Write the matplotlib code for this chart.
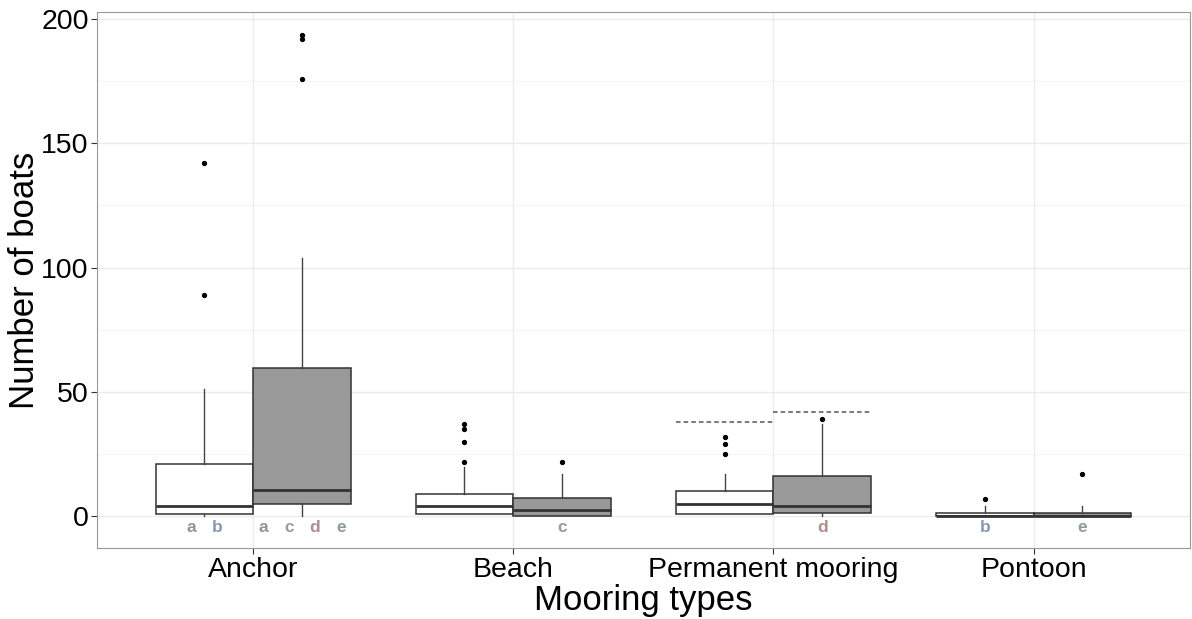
import matplotlib.pyplot as plt

plt.rcParams['font.family'] = ['Liberation Sans', 'DejaVu Sans']

categories = ["Anchor", "Beach", "Permanent mooring", "Pontoon"]

# box stats per category: first (white) and second (grey) group
white_low = [0, 1, 1, 0]
white_q1 = [1, 1, 1, 0]
white_med = [4, 4, 5, 0]
white_q3 = [21, 9, 10, 1.5]
white_high = [51, 20, 17, 4]
white_out = [[89, 142], [22, 30, 35, 37], [25, 29, 32], [7]]

grey_low = [0, 0, 0, 0]
grey_q1 = [5, 0, 1.5, 0]
grey_med = [10.5, 2.5, 4, 0]
grey_q3 = [59.5, 7.5, 16, 1.5]
grey_high = [104, 17, 37, 4]
grey_out = [[176, 192, 193.5], [22], [39], [17]]

# dashed reference levels (permanent mooring only)
ref_white = [None, None, 38, None]
ref_grey = [None, None, 42, None]

# significance letters under each box
letters_white = [["a", "b"], [], [], ["b"]]
letters_grey = [["a", "c", "d", "e"], ["c"], ["d"], ["e"]]
letter_colors = {"a": "#8d9893", "b": "#8c97ae", "c": "#9a9a9a",
                 "d": "#b08c8c", "e": "#8e9b98"}

fig = plt.figure(figsize=(11.92, 6.19), dpi=100)
ax = fig.add_axes([0.0814, 0.115, 0.9166, 0.8656])

w = 0.375
off = w / 2


def make_stats(low, q1, med, q3, high, out):
    return [dict(whislo=a, q1=b, med=c, q3=d, whishi=e, fliers=f)
            for a, b, c, d, e, f in zip(low, q1, med, q3, high, out)]


groups = [
    (make_stats(white_low, white_q1, white_med, white_q3, white_high, white_out), -off, "white"),
    (make_stats(grey_low, grey_q1, grey_med, grey_q3, grey_high, grey_out), off, "#999999"),
]
xs = list(range(1, len(categories) + 1))

for stats, shift, fc in groups:
    ax.bxp(stats, positions=[x + shift for x in xs], widths=w,
           patch_artist=True, showcaps=False,
           boxprops=dict(facecolor=fc, edgecolor="#333333", linewidth=1.1),
           medianprops=dict(color="#333333", linewidth=2),
           whiskerprops=dict(color="#444444", linewidth=1),
           flierprops=dict(marker="o", markersize=2.8, markerfacecolor="black",
                           markeredgecolor="black"),
           zorder=3)

for x, rw, rg in zip(xs, ref_white, ref_grey):
    if rw is not None:
        ax.hlines(rw, x - w, x, colors="#555555", linestyles=(0, (3, 2)),
                  linewidth=1.1, zorder=3)
    if rg is not None:
        ax.hlines(rg, x, x + w, colors="#555555", linestyles=(0, (3, 2)),
                  linewidth=1.1, zorder=3)


def put_letters(x, labs, step=0.1):
    n = len(labs)
    for i, lab in enumerate(labs):
        lx = x + (i - (n - 1) / 2) * step
        ax.text(lx, -4.5, lab, ha="center", va="center", fontsize=12.5,
                fontweight="bold", color=letter_colors[lab], zorder=4)


for x, lw_, lg in zip(xs, letters_white, letters_grey):
    put_letters(x - off, lw_)
    put_letters(x + off, lg)

ax.set_xlim(0.4, 4.6)
ax.set_ylim(-12.7, 202.8)
ax.set_xticks(xs)
ax.set_xticklabels(categories, fontsize=20.5)
ax.set_yticks([0, 50, 100, 150, 200])
ax.set_yticks([25, 75, 125, 175], minor=True)
ax.tick_params(axis="y", labelsize=20.5, pad=2)
ax.tick_params(axis="x", pad=2.5)
ax.tick_params(which="both", color="#333333", length=4)
ax.tick_params(which="minor", length=0)
ax.grid(True, which="major", color="#ebebeb", linewidth=1, zorder=0)
ax.grid(True, which="minor", axis="y", color="#f4f4f4", linewidth=0.8, zorder=0)
ax.set_axisbelow(True)
for s in ax.spines.values():
    s.set_color("#999999")

ax.set_xlabel("Mooring types", fontsize=25, labelpad=1)
ax.set_ylabel("Number of boats", fontsize=25, labelpad=0)

fig.savefig("out.png", dpi=100)
